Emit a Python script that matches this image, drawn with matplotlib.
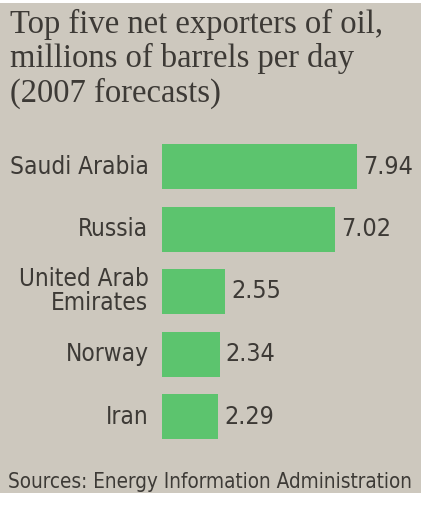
import matplotlib.pyplot as plt
from matplotlib.patches import Rectangle

countries = ["Saudi Arabia", "Russia", "United Arab\nEmirates", "Norway", "Iran"]
barrels = [7.94, 7.02, 2.55, 2.34, 2.29]
value_labels = ["7.94", "7.02", "2.55", "2.34", "2.29"]

paper = "#cdc8be"
green = "#5cc46e"
ink = "#3d3a36"
narrow = dict(family="DejaVu Sans", stretch="condensed")

fig = plt.figure(figsize=(4.26, 5.08), dpi=100)
fig.patch.set_facecolor("white")
# newsprint panel
fig.patches.append(Rectangle((0.0, 1 - 493 / 508), 421 / 426, (493 - 3) / 508,
                             transform=fig.transFigure, facecolor=paper,
                             edgecolor="none", zorder=-5))

ax = fig.add_axes([162 / 426, 1 - 447.75 / 508, 258 / 426, 312.5 / 508])
ax.set_zorder(2)
ax.set_facecolor("none")
ax.barh(range(len(countries)), barrels, height=0.72, color=green, edgecolor="none")
ax.set_xlim(0, 258 / 24.6)
ax.set_ylim(4.5, -0.5)
ax.axis("off")

for i, (name, v, lab) in enumerate(zip(countries, barrels, value_labels)):
    ax.text(-0.55, i, name, ha="right", va="center", fontsize=17.5,
            color=ink, linespacing=1.0, clip_on=False, **narrow)
    ax.text(v + 0.25, i, lab, ha="left", va="center", fontsize=18,
            color=ink, clip_on=False, **narrow)

fig.text(10 / 426, 1 - 9 / 508,
         "Top five net exporters of oil,\nmillions of barrels per day\n(2007 forecasts)",
         ha="left", va="top", fontsize=23.5, family=["Liberation Serif", "DejaVu Serif"],
         color=ink, linespacing=1.13)

fig.text(8 / 426, 1 - 488 / 508, "Sources: Energy Information Administration",
         ha="left", va="baseline", fontsize=14.9, color=ink, **narrow)

fig.savefig("out.png", dpi=100, facecolor=fig.get_facecolor())
